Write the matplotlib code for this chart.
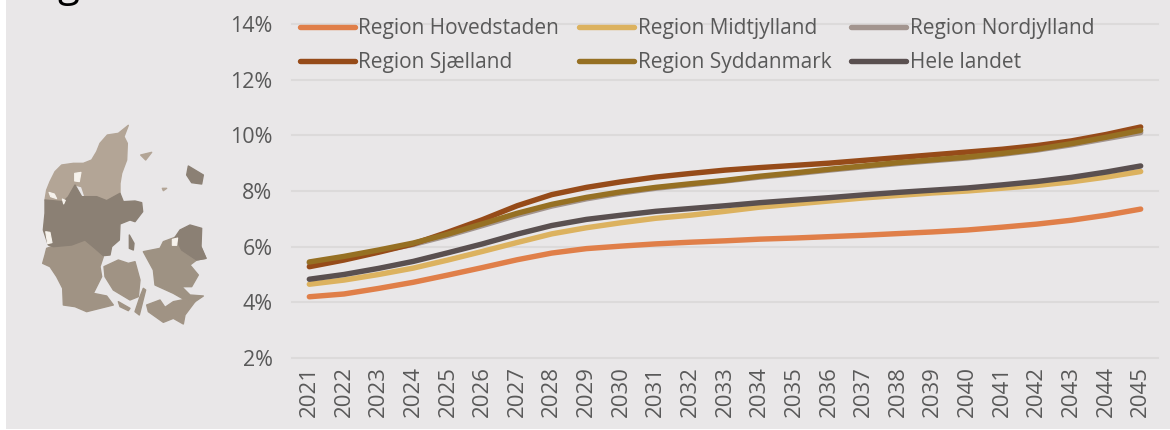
import matplotlib
matplotlib.use("Agg")
import matplotlib.pyplot as plt
from matplotlib.patches import Polygon

years = list(range(2021, 2046))
hovedstaden = [4.20, 4.30, 4.50, 4.72, 4.98, 5.25, 5.53, 5.77, 5.93, 6.02, 6.10, 6.16, 6.21, 6.27, 6.31, 6.36, 6.41, 6.47, 6.53, 6.60, 6.70, 6.81, 6.95, 7.13, 7.35]
midtjylland = [4.65, 4.80, 5.00, 5.23, 5.52, 5.83, 6.15, 6.46, 6.68, 6.86, 7.02, 7.13, 7.27, 7.42, 7.53, 7.64, 7.75, 7.84, 7.93, 8.00, 8.10, 8.20, 8.33, 8.50, 8.70]
nordjylland = [5.41, 5.61, 5.84, 6.08, 6.40, 6.76, 7.13, 7.46, 7.72, 7.93, 8.10, 8.23, 8.36, 8.50, 8.62, 8.75, 8.87, 8.99, 9.09, 9.19, 9.32, 9.47, 9.66, 9.88, 10.10]
sjaelland = [5.28, 5.52, 5.80, 6.10, 6.52, 6.97, 7.47, 7.87, 8.13, 8.33, 8.50, 8.63, 8.75, 8.84, 8.92, 9.00, 9.10, 9.20, 9.30, 9.40, 9.50, 9.63, 9.80, 10.03, 10.30]
syddanmark = [5.45, 5.65, 5.88, 6.13, 6.45, 6.82, 7.20, 7.52, 7.77, 7.97, 8.13, 8.26, 8.38, 8.53, 8.65, 8.78, 8.90, 9.02, 9.12, 9.22, 9.35, 9.50, 9.70, 9.93, 10.18]
hele_landet = [4.83, 5.00, 5.22, 5.47, 5.78, 6.10, 6.45, 6.76, 6.98, 7.13, 7.27, 7.37, 7.47, 7.58, 7.67, 7.76, 7.86, 7.95, 8.03, 8.11, 8.22, 8.34, 8.49, 8.68, 8.90]

names = ["Region Hovedstaden", "Region Midtjylland", "Region Nordjylland",
         "Region Sjælland", "Region Syddanmark", "Hele landet"]
colors = ["#E07F49", "#DCB25F", "#A3958F", "#964B19", "#967023", "#5A5050"]
series = [hovedstaden, midtjylland, nordjylland, sjaelland, syddanmark, hele_landet]
y_ticks = [2, 4, 6, 8, 10, 12, 14]

# Decorative map of Denmark, outlines in reference pixels x 3
MAP_NORTH = [(135,600),(140,570),(150,545),(165,515),(185,495),(220,490),(250,490),(275,480),(290,455),(300,430),(322,405),(355,400),(385,376),(372,410),(382,430),(380,480),(365,520),(360,550),(360,580),(320,602),(290,590),(255,590),(245,560),(225,555),(205,590),(190,605)]
MAP_MID = [(135,600),(190,605),(205,590),(225,555),(245,590),(290,590),(320,602),(360,580),(370,605),(405,603),(425,608),(428,635),(405,665),(390,660),(360,672),(358,720),(335,740),(330,765),(310,767),(285,745),(255,720),(215,735),(160,740),(145,735),(130,690),(135,640)]
MAP_SOUTH = [(128,790),(135,765),(140,745),(160,738),(215,735),(255,720),(285,745),(310,770),(300,800),(305,830),(295,850),(280,880),(320,888),(340,915),(300,925),(260,935),(225,920),(190,915),(188,865),(170,830),(150,800)]
MAP_FYN = [(312,800),(355,780),(385,790),(405,785),(420,840),(415,890),(390,900),(340,870),(315,830)]
MAP_ZEALAND = [(430,755),(480,745),(490,725),(525,712),(545,735),(600,735),(618,775),(590,780),(570,795),(595,825),(575,860),(545,860),(570,885),(610,888),(585,905),(555,900),(520,880),(465,855),(460,810)]
MAP_CAPITAL = [(525,712),(540,690),(570,675),(605,685),(603,740),(618,775),(590,780),(575,770),(545,750)]
MAP_LOLLAND = [(440,915),(480,900),(495,922),(520,905),(555,898),(585,905),(555,945),(550,972),(520,955),(490,967),(445,935)]
MAP_BORNHOLM = [(565,498),(610,525),(605,552),(575,548),(560,525)]
MAP_LAESO = [(422,465),(455,457),(437,480)]
MAP_ANHOLT = [(487,565),(500,565),(490,572)]
MAP_LANGELAND = [(430,865),(437,870),(418,945),(405,935),(420,890)]
MAP_AERO = [(355,905),(390,925),(385,932),(360,920)]
MAP_SAMSO = [(388,705),(402,730),(400,750),(388,745)]
MAP_HOLES = [[(147,577),(163,582),(170,596),(152,590)], [(224,520),(243,517),(238,545),(224,543)],
             [(137,695),(150,697),(156,728),(143,731)], [(517,718),(533,714),(530,736),(517,736)],
             [(187,597),(196,601),(191,612)]]

fig = plt.figure(figsize=(11.7, 4.3), dpi=100, facecolor="white")
plt.rcParams["font.family"] = ["Open Sans", "DejaVu Sans"]
W, H = 1170, 430

bg = fig.add_axes([0, 0, 1, 1], zorder=0)
bg.set_xlim(0, W)
bg.set_ylim(H, 0)
bg.axis("off")
bg.add_patch(plt.Rectangle((6, 0), W - 6, H - 1, fc="#E9E7E8", ec="none"))

shapes = [(MAP_NORTH, "#B3A596"), (MAP_SOUTH, "#A09384"), (MAP_MID, "#8B8074"),
          (MAP_FYN, "#A09384"), (MAP_ZEALAND, "#9E9283"), (MAP_CAPITAL, "#8B8074"),
          (MAP_LOLLAND, "#A09384"), (MAP_BORNHOLM, "#8B8074"), (MAP_LAESO, "#B3A596"),
          (MAP_ANHOLT, "#B3A596"), (MAP_LANGELAND, "#A09384"), (MAP_AERO, "#A09384"),
          (MAP_SAMSO, "#8B8074")]
for pts, c in shapes:
    bg.add_patch(Polygon([(x / 3, y / 3) for x, y in pts], closed=True, fc=c, ec=c, lw=1.0, joinstyle="round"))
for pts in MAP_HOLES:
    bg.add_patch(Polygon([(x / 3, y / 3) for x, y in pts], closed=True, fc="#F6F2EC", ec="#F6F2EC", lw=0.8, joinstyle="round"))

bg.text(68, -4, "g", fontsize=29, color="black", ha="center", va="baseline", clip_on=False)

ax = fig.add_axes([292 / W, 1 - 358 / H, (1158 - 292) / W, (358 - 24) / H], zorder=1)
ax.patch.set_alpha(0)
for s in ax.spines.values():
    s.set_visible(False)
x = list(range(len(years)))
lines = []
for vals, name, c in zip(series, names, colors):
    lines += ax.plot(x, vals, color=c, lw=3.9, label=name, solid_capstyle="round", solid_joinstyle="round", zorder=3)

ax.set_xlim(-0.5, len(years) - 0.5)
ax.set_ylim(2, 14)
ax.set_yticks(y_ticks)
ax.set_yticklabels([f"{v}%" for v in y_ticks])
ax.set_xticks(x)
ax.set_xticklabels(years, rotation=90)
ax.tick_params(axis="y", length=0, pad=14, labelsize=15.5, labelcolor="#595959")
ax.tick_params(axis="x", length=0, pad=6, labelsize=16, labelcolor="#595959")
ax.grid(axis="y", color="#DCDADA", lw=1.5, zorder=0, clip_on=False)
ax.set_axisbelow(True)

order = [0, 3, 1, 4, 2, 5]
ax.legend([lines[i] for i in order], [names[i] for i in order], loc="upper left",
          bbox_to_anchor=(8 / 866, 1.0165), ncol=3, frameon=False, fontsize=15,
          labelcolor="#595959", handlelength=2.65, handletextpad=0.15, columnspacing=0.96,
          labelspacing=0.62, borderpad=0, borderaxespad=0)

fig.savefig("out.png", dpi=100)
